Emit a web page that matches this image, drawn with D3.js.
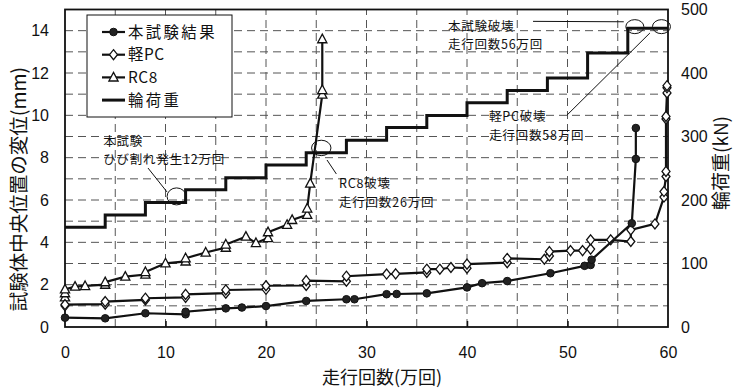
<!DOCTYPE html>
<html><head><meta charset="utf-8">
<script src="https://cdn.jsdelivr.net/npm/d3@7/dist/d3.min.js"></script>
<style>
body{margin:0;background:#fff}
text{fill:#111}
</style>
</head><body>
<svg id="chart" width="737" height="389"></svg>
<script>
// 走行回数 (万回) and 試験体中央位置の変位 (mm) for each specimen
const testX = [0, 4, 8, 12, 12, 16, 17.6, 20, 24, 28, 28.8, 32, 33, 36, 40, 41.5, 44, 48.3, 51.7, 52.3, 52.4, 56.4, 56.8, 56.8];
const testY = [0.44, 0.41, 0.65, 0.6, 0.72, 0.88, 0.92, 0.99, 1.23, 1.31, 1.31, 1.55, 1.56, 1.59, 1.87, 2.07, 2.17, 2.54, 2.89, 2.93, 3.18, 4.9, 7.94, 9.4];

const lpcX = [0, 0, 4, 4, 8, 8, 12, 12, 16, 16, 20, 20, 24, 24, 28, 28, 32, 32.9, 36, 36, 37.3, 38.4, 40, 40, 44, 44, 47.7, 48.2, 48.2, 50.3, 51.5, 52.3, 52.3, 54.3, 56.3, 56.3, 58.7, 59.6, 59.6, 59.8, 59.8, 59.8, 59.8, 59.9, 59.9, 59.9];
const lpcY = [1.0, 1.06, 1.08, 1.2, 1.28, 1.36, 1.4, 1.54, 1.6, 1.75, 1.78, 1.95, 1.96, 2.19, 2.16, 2.4, 2.5, 2.51, 2.58, 2.73, 2.73, 2.81, 2.78, 2.97, 3.04, 3.24, 3.2, 3.36, 3.56, 3.61, 3.61, 3.68, 4.12, 4.12, 4.04, 4.59, 4.87, 6.14, 6.4, 7.11, 7.35, 9.83, 9.95, 11.06, 11.3, 11.4];

const rc8X = [0, 0, 0, 1, 2, 4, 4, 6, 8, 8, 10, 12, 12, 14, 16, 16, 18, 19, 20.2, 20.2, 22.1, 22.6, 24.1, 24.1, 24.4, 25.6, 25.6, 25.6];
const rc8Y = [1.4, 1.6, 1.78, 1.91, 1.94, 2.0, 2.12, 2.38, 2.48, 2.6, 3.01, 3.1, 3.25, 3.52, 3.75, 3.9, 4.27, 3.97, 4.2, 4.48, 4.83, 5.06, 5.3, 5.6, 6.78, 10.98, 11.2, 13.6];

// 輪荷重 (kN): stepped loading program
const loadX = [0, 4, 8, 12, 16, 20, 24, 28, 32, 36, 40, 44, 48, 52, 56, 60];
const loadKN = [157, 176.5, 196, 216, 235, 255, 274.5, 294, 314, 333, 353, 372.5, 392, 431.5, 470.5, 470.5];

const xTicks = [0, 10, 20, 30, 40, 50, 60];
const yTicks = [0, 2, 4, 6, 8, 10, 12, 14];
const kNTicks = [0, 100, 200, 300, 400, 500];

const seriesNames = ["本試験結果", "軽PC", "RC8", "輪荷重"];

const svg = d3.select("#chart");
const L = 65, R = 668, T = 9.5, B = 327;
const x = d3.scaleLinear().domain([0, 60]).range([L, R]);
const y = d3.scaleLinear().domain([0, 15]).range([B, T]);
const yKN = d3.scaleLinear().domain([0, 500]).range([B, T]);

const latin = "'Liberation Sans', Arial, sans-serif";
const cjk = "'Noto Sans CJK JP', 'Noto Sans', sans-serif";

// dashed grid
const grid = svg.append("g").attr("stroke", "#555").attr("stroke-width", 1).attr("stroke-dasharray", "8,5");
grid.selectAll("line.h").data(d3.range(1, 15)).join("line")
  .attr("x1", L).attr("x2", R).attr("y1", d => y(d)).attr("y2", d => y(d));
grid.selectAll("line.v").data(d3.range(5, 60, 5)).join("line")
  .attr("y1", B).attr("y2", T).attr("x1", d => x(d)).attr("x2", d => x(d));

// axes
const xAxis = svg.append("g").attr("transform", `translate(0,${B})`)
  .call(d3.axisBottom(x).tickValues(xTicks).tickSizeInner(-6).tickSizeOuter(0).tickPadding(20));
const yAxis = svg.append("g").attr("transform", `translate(${L},0)`)
  .call(d3.axisLeft(y).tickValues(yTicks).tickSize(0).tickPadding(16));
const rAxis = svg.append("g").attr("transform", `translate(${R},0)`)
  .call(d3.axisRight(yKN).tickValues(kNTicks).tickSize(0).tickPadding(13));
[xAxis, yAxis, rAxis].forEach(a => {
  a.select(".domain").remove();
  a.selectAll("text").attr("font-family", latin).attr("font-size", 16).attr("fill", "#111");
  a.selectAll("line").attr("stroke", "#111").attr("stroke-width", 1.5);
});
xAxis.selectAll(".tick").filter(d => d === 0 || d === 60).select("line").remove();

// frame
svg.append("rect").attr("x", L).attr("y", T).attr("width", R - L).attr("height", B - T)
  .attr("fill", "none").attr("stroke", "#111").attr("stroke-width", 1.8);

// axis titles
svg.append("text").attr("transform", `translate(26,189) rotate(-90)`)
  .attr("text-anchor", "middle").attr("font-family", cjk).attr("font-size", 19.5)
  .text("試験体中央位置の変位(mm)");
svg.append("text").attr("x", 382).attr("y", 384).attr("text-anchor", "middle")
  .attr("font-family", cjk).attr("font-size", 18).text("走行回数(万回)");
svg.append("text").attr("transform", `translate(728,163) rotate(-90)`)
  .attr("text-anchor", "middle").attr("font-family", cjk).attr("font-size", 19)
  .text("輪荷重(kN)");

// wheel load staircase
const loadData = loadX.map((d, i) => [d, loadKN[i]]);
svg.append("path").datum(loadData)
  .attr("d", d3.line().x(d => x(d[0])).y(d => yKN(d[1])).curve(d3.curveStepAfter))
  .attr("fill", "none").attr("stroke", "#111").attr("stroke-width", 3);

// marker shapes
const diamond = "M0,-5L4,0L0,5L-4,0Z";
const triangle = "M0,-5L4.6,3.6L-4.6,3.6Z";

function drawSeries(xs, ys, kind) {
  const pts = xs.map((d, i) => [d, ys[i]]);
  const g = svg.append("g");
  g.append("path").datum(pts)
    .attr("d", d3.line().x(d => x(d[0])).y(d => y(d[1])))
    .attr("fill", "none").attr("stroke", "#111").attr("stroke-width", 2.2);
  const m = g.selectAll(".m").data(pts).join(kind === "circle" ? "circle" : "path")
    .attr("stroke", "#111");
  if (kind === "circle") {
    m.attr("cx", d => x(d[0])).attr("cy", d => y(d[1])).attr("r", 3.8).attr("fill", "#222");
  } else {
    m.attr("d", kind === "diamond" ? diamond : triangle)
      .attr("transform", d => `translate(${x(d[0])},${y(d[1])})`)
      .attr("fill", "#fff").attr("stroke-width", 1.3);
  }
}
drawSeries(rc8X, rc8Y, "triangle");
drawSeries(lpcX, lpcY, "diamond");
drawSeries(testX, testY, "circle");

// annotations: callout ellipses, leader lines and two-line labels
const ann = svg.append("g").attr("font-family", cjk).attr("font-size", 12.5).attr("letter-spacing", 0.8);
function ellipse(cx, cy, rx, ry) {
  ann.append("ellipse").attr("cx", x(cx)).attr("cy", y(cy)).attr("rx", rx).attr("ry", ry)
    .attr("fill", "none").attr("stroke", "#111").attr("stroke-width", 1);
}
function leader(x1, y1, x2, y2) {
  ann.append("line").attr("x1", x(x1)).attr("y1", y(y1)).attr("x2", x(x2)).attr("y2", y(y2))
    .attr("stroke", "#111").attr("stroke-width", 1);
}
function label(tx, ty, lines) {
  lines.forEach((s, i) => ann.append("text").attr("x", x(tx)).attr("y", y(ty) + i * 18.3).text(s));
}
ellipse(11.1, 6.17, 9.5, 8.5);
leader(8.26, 7.51, 10.15, 6.38);
label(3.8, 8.55, ["本試験", "ひび割れ発生12万回"]);

ellipse(25.5, 8.46, 9.7, 7.7);
leader(26.07, 7.89, 27.0, 7.23);
label(27.26, 6.55, ["RC8破壊", "走行回数26万回"]);

ellipse(56.7, 14.19, 9, 7);
ellipse(59.35, 14.19, 9, 7);
leader(46.57, 14.44, 55.6, 14.42);
label(38.1, 14.0, ["本試験破壊", "走行回数56万回"]);
leader(49.95, 10.01, 58.2, 13.89);
label(42.19, 9.72, ["軽PC破壊", "走行回数58万回"]);

// legend
const lg = svg.append("g");
lg.append("rect").attr("x", 87).attr("y", 15).attr("width", 145).attr("height", 102)
  .attr("fill", "#fff").attr("stroke", "#111").attr("stroke-width", 1);
const rowY = i => 32 + i * 22.7;
seriesNames.forEach((name, i) => {
  const cy = rowY(i);
  lg.append("line").attr("x1", 102).attr("x2", 125).attr("y1", cy).attr("y2", cy)
    .attr("stroke", "#111").attr("stroke-width", i === 3 ? 3 : 2.2);
  if (i === 0) lg.append("circle").attr("cx", 113.5).attr("cy", cy).attr("r", 3.8).attr("fill", "#222").attr("stroke", "#111");
  if (i === 1) lg.append("path").attr("d", diamond).attr("transform", `translate(113.5,${cy})`).attr("fill", "#fff").attr("stroke", "#111").attr("stroke-width", 1.3);
  if (i === 2) lg.append("path").attr("d", triangle).attr("transform", `translate(113.5,${cy})`).attr("fill", "#fff").attr("stroke", "#111").attr("stroke-width", 1.3);
  const allCjk = /^[^\x00-\x7F]+$/.test(name);
  lg.append("text").attr("x", 128).attr("y", cy).attr("dy", "0.36em")
    .attr("font-family", "'Liberation Sans Narrow', 'Noto Sans CJK JP', sans-serif")
    .attr("font-size", 15.4).attr("letter-spacing", allCjk ? 2.4 : 0.6)
    .text(name);
});
</script>
</body></html>
